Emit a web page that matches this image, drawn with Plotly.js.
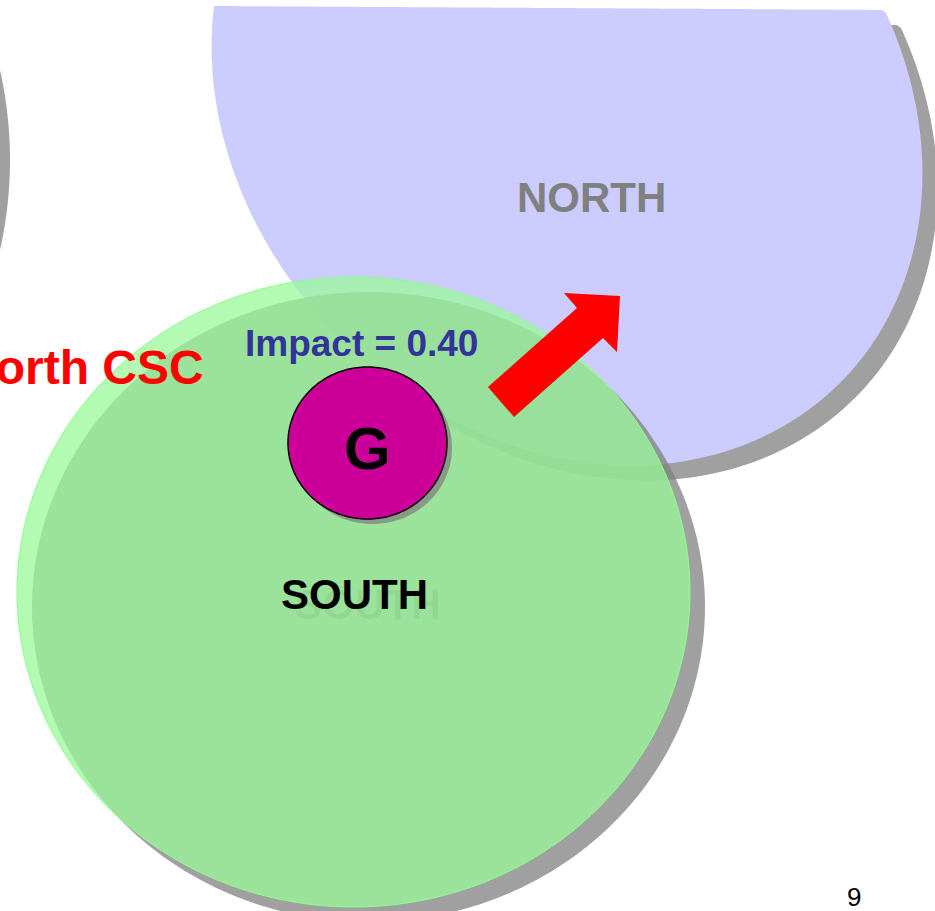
<!DOCTYPE html>
<html><head><meta charset="utf-8">
<script src="https://cdn.plot.ly/plotly-3.0.1.min.js"></script>
<style>html,body{margin:0;padding:0;background:#fff;overflow:hidden}#chart{width:935px;height:911px}</style>
</head><body><div id="chart"></div>
<script>
// ---- content ----
const regionNames = ["NORTH", "SOUTH"];
const sideLabel = ["North CSC"];
const nodeLabels = ["G"];
const impactValues = [0.40];
const pageNumber = ["9"];

// ---- geometry (pixel space, y down) ----
const W = 935, H = 911;
const SHADOW = 'rgba(128,128,128,0.75)';
const FONT = 'Liberation Sans, Arial, sans-serif';

function ellPts(cx, cy, a, b, rotDeg, n) {
  n = n || 240;
  const th = rotDeg * Math.PI / 180, c = Math.cos(th), s = Math.sin(th);
  const pts = [];
  for (let i = 0; i < n; i++) {
    const t = 2 * Math.PI * i / n;
    const u = a * Math.cos(t), v = b * Math.sin(t);
    pts.push([cx + u * c - v * s, cy + u * s + v * c]);
  }
  return pts;
}
function toPath(pts, dx, dy) {
  dx = dx || 0; dy = dy || 0;
  return 'M' + pts.map(p => (p[0] + dx).toFixed(2) + ',' + (p[1] + dy).toFixed(2)).join('L') + 'Z';
}
function shape(path, fill, line) {
  return { type: 'path', xref: 'x', yref: 'y', path: path, fillcolor: fill,
           line: line || { width: 0 }, layer: 'above' };
}

// NORTH region: tilted ellipse cut flat at the top
const northTop = x => 6 + (x - 213) * 4 / 680;
const northPts = ellPts(567, 110, 386, 322, 45).map(p => [p[0], Math.max(p[1], northTop(p[0]))]);
// SOUTH region
const southPts = ellPts(353.5, 592, 336.5, 315, 0);
// node G
const gPts = ellPts(367.5, 443, 79.5, 76, 0);
// partial circle off-page at left
const leftPts = ellPts(-400, 160, 410, 410, 0);
// arrow polygon
const arrowPts = [[488,387],[577,308],[564,293],[620,296],[617,352],[603,338],[514,417]];

const shapes = [
  shape(toPath(leftPts), '#a0a0a0'),
  shape(toPath(northPts, 15, 15), SHADOW),
  shape(toPath(northPts), '#ccccff'),
  shape(toPath(southPts, 15, 15), SHADOW),
  shape(toPath(southPts), 'rgba(153,250,153,0.75)', { color: 'rgb(140,255,140)', width: 1 }),
  shape(toPath(gPts, 5, 5), SHADOW),
  shape(toPath(gPts), '#cc0099', { color: '#000', width: 1.5 }),
  shape(toPath(arrowPts), '#ff0000')
];

function ann(text, x, y, size, color, opts) {
  return Object.assign({ text: text, x: x, y: y, xref: 'x', yref: 'y', showarrow: false,
    xanchor: 'center', yanchor: 'middle', borderpad: 0,
    font: { family: FONT, size: size, color: color, weight: 'bold' } }, opts || {});
}

const annotations = [
  ann(regionNames[0], 591, 197, 42, '#808080'),
  ann(regionNames[1], 367, 604, 42, 'rgba(0,40,0,0.06)'),
  ann(regionNames[1], 354, 594, 42, '#000000'),
  ann('Impact = ' + impactValues[0].toFixed(2), 361, 343, 37, '#333399'),
  ann(sideLabel[0], 205, 367, 48, '#ff0000', { xanchor: 'right' }),
  ann(nodeLabels[0], 367, 448, 60, '#000000'),
  ann(pageNumber[0], 854, 897, 26, '#000000', { font: { family: FONT, size: 26, color: '#000', weight: 'normal' } })
];

const layout = {
  width: W, height: H,
  margin: { l: 0, r: 0, t: 0, b: 0, pad: 0 },
  paper_bgcolor: '#ffffff', plot_bgcolor: '#ffffff',
  showlegend: false,
  xaxis: { range: [0, W], visible: false, fixedrange: true },
  yaxis: { range: [H, 0], visible: false, fixedrange: true },
  shapes: shapes,
  annotations: annotations
};

Plotly.newPlot('chart', [], layout, { staticPlot: true, displayModeBar: false });
</script>
</body></html>
